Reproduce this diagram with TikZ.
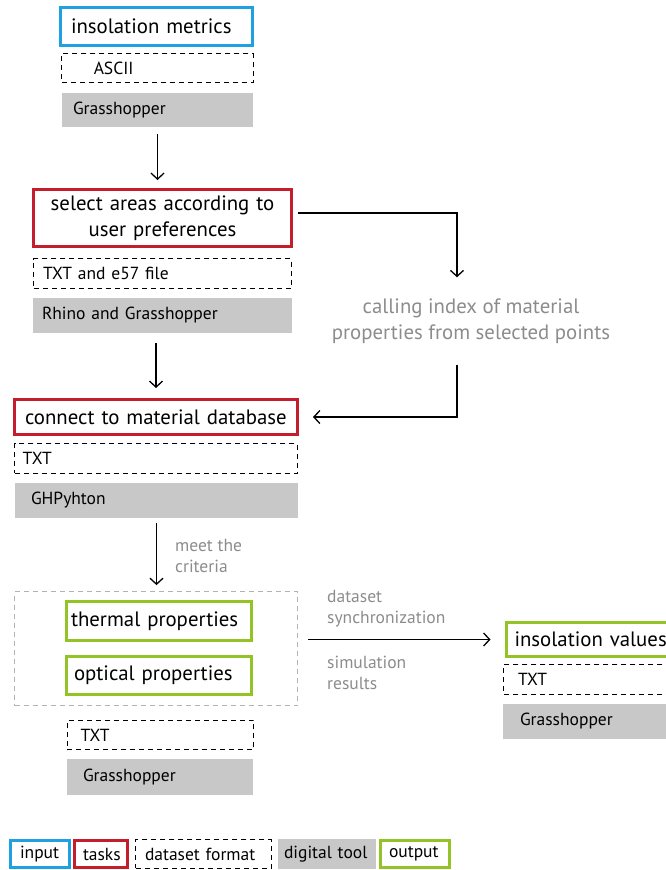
\documentclass[tikz,border=0pt]{standalone}
\usepackage{fontspec}
\setmainfont{PT Sans}
\usepackage{xcolor}
\usetikzlibrary{arrows.meta,positioning}

\definecolor{inblue}{RGB}{29,161,226}
\definecolor{taskred}{RGB}{196,30,45}
\definecolor{outgreen}{RGB}{146,196,38}
\definecolor{toolgray}{RGB}{200,200,200}
\definecolor{notegray}{RGB}{140,140,140}

\begin{document}
\begin{tikzpicture}[
  x=1pt, y=-1pt,
  big/.style={font=\fontsize{20.8}{25.5}\selectfont},
  small/.style={font=\fontsize{17.5}{21}\selectfont},
  inbox/.style={draw=inblue, line width=3pt, big, inner ysep=0pt, align=left},
  taskbox/.style={draw=taskred, line width=3pt, big, inner ysep=0pt, align=left},
  outbox/.style={draw=outgreen, line width=3pt, big, inner ysep=0pt, align=left},
  fmtbox/.style={draw, line width=1.4pt, dash pattern=on 5pt off 4pt, small,
                 inner ysep=0pt, align=left},
  toolbox/.style={fill=toolgray, small, inner ysep=0pt, align=left},
  note/.style={text=notegray, small, inner sep=0pt, align=left},
  arr/.style={-{Straight Barb[length=6pt,width=13pt]}, line width=1.3pt}
]
  \useasboundingbox (0,0) rectangle (666,870);

  % input
  \node[inbox, minimum width=192pt, minimum height=38pt, inner xsep=10.5pt,
        text width=171pt] (met) at (156.5,26.5) {insolation metrics};
  \node[fmtbox, minimum width=191.5pt, minimum height=28.5pt, inner xsep=32pt,
        text width=127.5pt] (fmta) at (157.5,68) {ASCII};
  \node[toolbox, minimum width=191pt, minimum height=34pt, inner xsep=11pt,
        text width=169pt] (gha) at (157.5,110) {Grasshopper};

  % task: select areas
  \node[taskbox, minimum width=258pt, minimum height=57pt, inner xsep=8pt,
        text width=242pt, align=center] (sel) at (162.5,218)
        {select areas according to\\user preferences};
  \node[fmtbox, minimum width=257.5pt, minimum height=29.5pt, inner xsep=9.25pt,
        text width=239pt] (fmtb) at (162.5,273.5) {TXT and e57 file};
  \node[toolbox, minimum width=259pt, minimum height=35pt, inner xsep=9pt,
        text width=241pt] (rhino) at (162.5,315.5) {Rhino and Grasshopper};

  \node[text=notegray, big, align=center] (call) at (471,321)
        {calling index of material\\properties from selected points};

  % task: database
  \node[taskbox, minimum width=283pt, minimum height=35pt, inner xsep=10.5pt,
        text width=262pt] (db) at (156,417) {connect to material database};
  \node[fmtbox, minimum width=282.5pt, minimum height=29.5pt, inner xsep=8pt,
        text width=266.5pt] (fmtc) at (156,458.5) {TXT};
  \node[toolbox, minimum width=283pt, minimum height=35pt, inner xsep=16pt,
        text width=251pt] (ghpy) at (156.5,500.5) {GHPyhton};

  % output: properties
  \node[draw=gray!60, line width=0.8pt, dash pattern=on 5pt off 4pt,
        minimum width=283pt, minimum height=114pt] (props) at (156,648.5) {};
  \node[outbox, minimum width=185pt, minimum height=39pt, inner xsep=4.5pt,
        text width=176pt] (therm) at (159,621) {thermal properties};
  \node[outbox, minimum width=185pt, minimum height=38pt, inner xsep=7.5pt,
        text width=170pt] (opt) at (159,675.5) {optical properties};
  \node[fmtbox, minimum width=186.5pt, minimum height=29.5pt, inner xsep=13.25pt,
        text width=160pt] (fmtd) at (160.5,735) {TXT};
  \node[toolbox, minimum width=186pt, minimum height=36pt, inner xsep=16pt,
        text width=154pt] (ghd) at (160,777) {Grasshopper};

  % output: insolation values
  \node[outbox, anchor=west, minimum height=34pt, inner xsep=8.5pt,
        text width=170pt] (ival) at (504.5,639.5) {insolation values};
  \node[fmtbox, minimum width=163.5pt, minimum height=29.5pt, inner xsep=14.25pt,
        text width=135pt] (fmte) at (585.5,679.5) {TXT};
  \node[toolbox, minimum width=165pt, minimum height=35pt, inner xsep=17pt,
        text width=131pt] (ghe) at (585.5,721.5) {Grasshopper};

  \node[note, anchor=west] (crit) at (175,556) {meet the\\criteria};
  \node[note, anchor=west] (sync) at (327,609) {dataset\\synchronization};
  \node[note, anchor=west] (sim) at (327,673) {simulation\\results};

  \draw[arr, shorten <=7pt, shorten >=8pt] (gha.south) -- (gha.south |- sel.north);
  \draw[arr, shorten <=5pt] ([yshift=5pt]sel.east) -| ([xshift=-14pt, yshift=18pt]call.north);
  \draw[arr, shorten >=14pt] ([xshift=-14pt, yshift=-18pt]call.south) |- (db.east);
  \draw[arr, shorten <=10pt, shorten >=10pt] (rhino.south -| db.north) -- (db.north);
  \draw[arr, shorten <=5pt, shorten >=6pt] (ghpy.south) -- (ghpy.south |- props.north);
  \draw[arr, shorten <=10pt, shorten >=14pt] (props.east |- ival.west) -- (ival.west);

  % legend
  \node[inbox, small, minimum width=59pt, minimum height=27pt,
        inner xsep=9.5pt, text width=40pt] (lin) at (40,854) {input};
  \node[taskbox, small, minimum width=53pt, minimum height=27pt,
        inner xsep=8.5pt, text width=36pt] (ltask) at (101,854) {tasks};
  \node[fmtbox, small, minimum width=135.5pt, minimum height=28.5pt,
        inner xsep=9.25pt, text width=117pt] (lfmt) at (203.5,854) {dataset format};
  \node[toolbox, small, minimum width=98pt, minimum height=30pt,
        inner xsep=6pt, text width=86pt] (ltool) at (327,854) {digital tool};
  \node[outbox, small, minimum width=69pt, minimum height=27pt,
        inner xsep=8.5pt, text width=52pt] (lout) at (415,854) {output};
\end{tikzpicture}
\end{document}
